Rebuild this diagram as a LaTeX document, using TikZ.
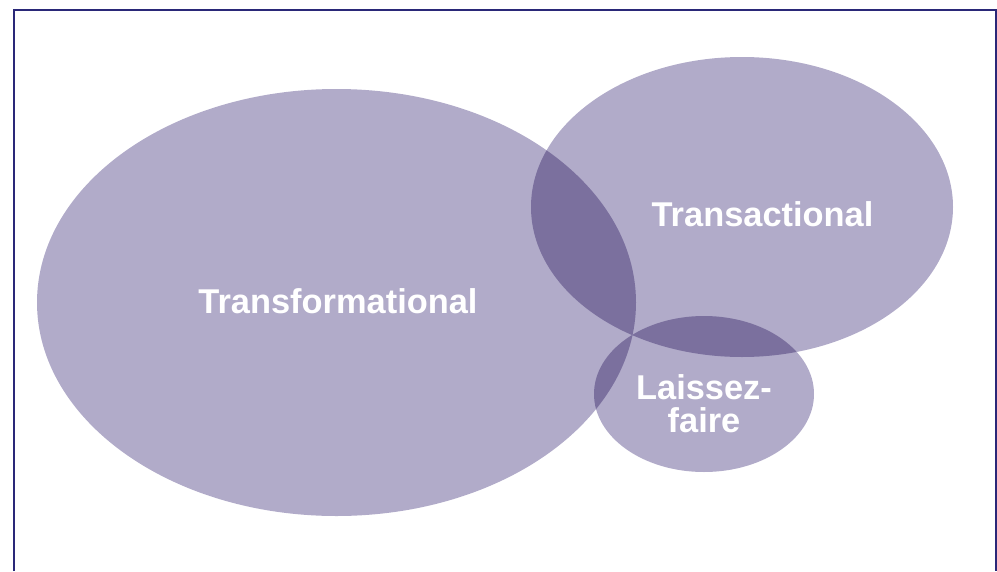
\documentclass[tikz,border=0pt]{standalone}
\usepackage{fontspec}
\setmainfont{Liberation Sans}
\definecolor{light}{RGB}{177,171,201}
\definecolor{dark}{RGB}{123,112,158}
\definecolor{frame}{RGB}{42,40,120}
\tikzset{
  lbl/.style={text=white,font=\fontsize{34.4}{33}\selectfont\bfseries,align=center,inner sep=0pt},
  framestyle/.style={draw=frame,line width=1.6pt}
}
\begin{document}
\begin{tikzpicture}[x=1pt,y=-1pt]
\useasboundingbox (0,0) rectangle (997,571);
\def\TF{(336.5,302.5) ellipse [x radius=299.5,y radius=213.5]}
\def\TA{(742,207) ellipse [x radius=211,y radius=150]}
\def\LF{(704,394) ellipse [x radius=110,y radius=78]}
\fill[light] \TF;
\fill[light] \TA;
\fill[light] \LF;
\begin{scope}\clip \TF; \fill[dark] \TA; \end{scope}
\begin{scope}\clip \TF; \fill[dark] \LF; \end{scope}
\begin{scope}\clip \TA; \fill[dark] \LF; \end{scope}
\node[lbl] (tf) at (338,301) {Transformational};
\node[lbl] (ta) at (762.5,214) {Transactional};
\node[lbl] (lf) at (704,403.5) {Laissez-\\faire};
\coordinate (c1) at (14,571);
\coordinate (c2) at (14,10);
\coordinate (c3) at (996,10);
\coordinate (c4) at (996,571);
\draw[framestyle] (c1) -- (c2) -- (c3) -- (c4);
\end{tikzpicture}
\end{document}
